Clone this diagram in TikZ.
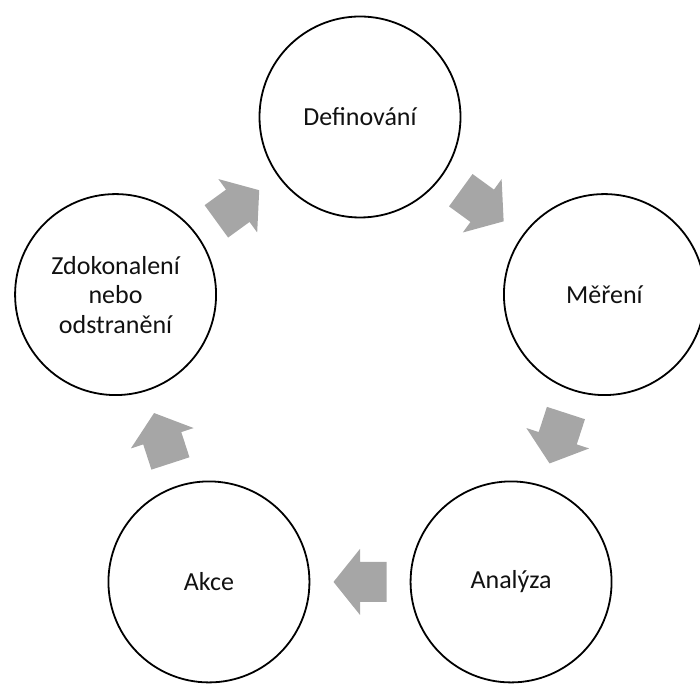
\documentclass[tikz,border=0pt]{standalone}
\usepackage{fontspec}
\setmainfont{Carlito}
\usetikzlibrary{calc}
\definecolor{arrowgray}{HTML}{A6A6A6}
\definecolor{textblack}{HTML}{111111}
\tikzset{
  stage/.style={circle, draw=black, line width=1.8pt, minimum size=201pt, inner sep=0pt,
    align=center, text=textblack, font=\fontsize{26}{29.5}\selectfont},
  blockarrow/.style={fill=arrowgray, draw=none}
}
\newcommand{\blockarr}[3]{% from node, to node, angle
  \begin{scope}[shift={($(#1)!0.5!(#2)$)}, rotate=#3]
    \fill[blockarrow] (26.5,0) -- (0,33) -- (0,20) -- (-26.5,20) -- (-26.5,-20) -- (0,-20) -- (0,-33) -- cycle;
  \end{scope}}
\begin{document}
\begin{tikzpicture}[x=1pt,y=1pt]
\useasboundingbox (0,0) rectangle (700,684);
\clip (0,0) rectangle (700,684);
\coordinate (c) at (360,310);
\node[stage] (d) at ([shift={(90:257)}]c) {Definování};
\node[stage] (m) at ([shift={(18:257)}]c) {Měření};
\node[stage] (an) at ([shift={(-54:257)}]c) {Analýza};
\node[stage] (ak) at ([shift={(-126:257)}]c) {Akce};
\node[stage] (z) at ([shift={(162:257)}]c) {Zdokonalení\\nebo\\odstranění};
\blockarr{d}{m}{-36}
\blockarr{m}{an}{-108}
\blockarr{an}{ak}{180}
\blockarr{ak}{z}{108}
\blockarr{z}{d}{36}
\end{tikzpicture}
\end{document}
